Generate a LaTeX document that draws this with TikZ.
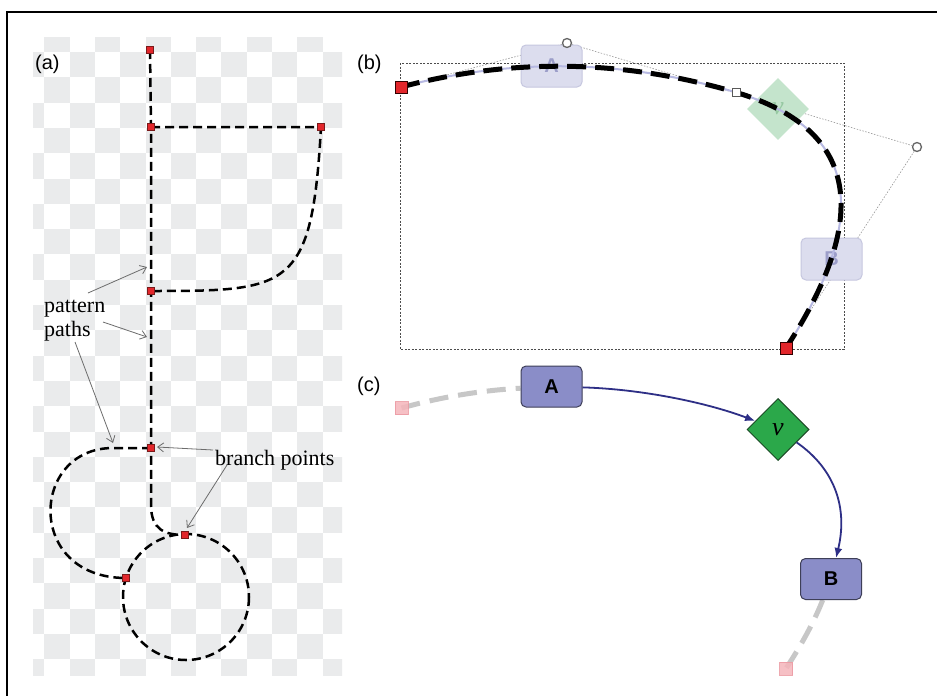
\documentclass[tikz,border=0pt]{standalone}
\usepackage{fontspec}
\setmainfont{Liberation Serif}
\setsansfont{Liberation Sans}
\usetikzlibrary{shapes.geometric,arrows.meta}
\definecolor{chk}{HTML}{EAEBEC}
\definecolor{redpt}{HTML}{E2262B}
\definecolor{reddark}{HTML}{7A1A1A}
\definecolor{lavfill}{HTML}{8A8DC8}
\definecolor{lavdraw}{HTML}{3E3F58}
\definecolor{ghfill}{HTML}{DCDDEE}
\definecolor{ghdraw}{HTML}{C6C7DF}
\definecolor{ghtext}{HTML}{9C9EC9}
\definecolor{gvfill}{HTML}{C4E4CC}
\definecolor{gvtext}{HTML}{96C8A2}
\definecolor{greenfill}{HTML}{2BA84A}
\definecolor{greendraw}{HTML}{1C4A26}
\definecolor{navy}{HTML}{2E2F86}
\definecolor{pinkfill}{HTML}{F5B5BB}
\definecolor{pinkdraw}{HTML}{EC9AA3}
\definecolor{lavline}{HTML}{B7B9E2}
\pgfdeclarelayer{bg}
\pgfsetlayers{bg,main}
\begin{document}
\begin{tikzpicture}[x=1pt,y=-1pt,
  pat/.style={line width=2.5pt,dash pattern=on 9pt off 5pt},
  ann/.style={draw=gray!85!black,line width=0.8pt,-{Straight Barb[length=6pt,width=9pt]}},
  lbl/.style={anchor=base west,inner sep=0pt,font=\fontsize{22}{26}\selectfont},
  plabel/.style={anchor=base west,inner sep=0pt,font=\sffamily\fontsize{20}{24}\selectfont},
  rp/.style={rectangle,fill=redpt,draw=reddark,line width=0.5pt,minimum size=7pt,inner sep=0pt},
  rsq/.style={rectangle,fill=redpt,draw=black!80!red,line width=1pt,minimum size=12pt,inner sep=0pt},
  wsq/.style={rectangle,fill=white,draw=black!65,line width=1.2pt,minimum size=8pt,inner sep=0pt},
  ctl/.style={circle,fill=white,draw=black!60,line width=1.3pt,minimum size=9pt,inner sep=0pt},
  ctlline/.style={draw=black!40,line width=0.6pt,dash pattern=on 1.5pt off 1.5pt},
  bbox/.style={draw=black!70,line width=0.9pt,dash pattern=on 2pt off 1.5pt},
  ghostbox/.style={rectangle,rounded corners=5pt,fill=ghfill,draw=ghdraw,line width=1pt,minimum width=61pt,minimum height=42pt,inner sep=0pt,text=ghtext,font=\sffamily\bfseries\fontsize{20}{22}\selectfont},
  ghostdia/.style={diamond,fill=gvfill,minimum width=62pt,minimum height=62pt,inner sep=0pt,text=gvtext,font=\itshape\fontsize{26}{28}\selectfont},
  lav/.style={draw=lavline,line width=2pt},
  bdash/.style={line width=5pt,dash pattern=on 19pt off 9pt},
  psq/.style={rectangle,fill=pinkfill,draw=pinkdraw,line width=1pt,minimum size=13pt,inner sep=0pt,opacity=0.85},
  nodebox/.style={rectangle,rounded corners=5pt,fill=lavfill,draw=lavdraw,line width=1pt,minimum width=61pt,minimum height=41pt,inner sep=0pt,font=\sffamily\bfseries\fontsize{20}{22}\selectfont},
  vdia/.style={diamond,fill=greenfill,draw=greendraw,line width=1pt,minimum width=62pt,minimum height=62pt,inner sep=0pt,font=\itshape\fontsize{26}{28}\selectfont},
  gdash/.style={draw=black!22,line width=5pt,dash pattern=on 19pt off 10pt},
  conn/.style={draw=navy,line width=1.8pt,-{Latex[length=10pt,width=8pt]}}
]
\useasboundingbox (0,0) rectangle (937,696);
\begin{pgfonlayer}{bg}
\fill[white] (0,0) rectangle (937,696);
\end{pgfonlayer}
\draw[line width=2pt] (7.3,696) -- (7.3,11.8) -- (937,11.8);

% ---------- panel (a) ----------
\begin{pgfonlayer}{bg}
\begin{scope}
\clip (33,37) rectangle (342,675);
\foreach \i in {0,...,13}{\foreach \j in {0,...,26}{%
  \ifodd\numexpr\i+\j\relax
    \fill[chk] ({19+25.3*\i},{26.7+25.3*\j}) rectangle +(25.3,25.3);
  \fi}}
\end{scope}
\end{pgfonlayer}

\node[plabel] (la) at (35,69.5) {(a)};
\node[rp] (a1) at (150,50) {};
\node[rp] (a2) at (151,127) {};
\node[rp] (a3) at (321,127) {};
\node[rp] (a4) at (151,291) {};
\node[rp] (a5) at (151,448) {};
\node[rp] (a6) at (185,535) {};
\node[rp] (a7) at (126,578) {};
\coordinate (cc) at (186,597);
\begin{pgfonlayer}{bg}
\draw[pat] (a1.center) -- (a2.center) -- (a4.center) -- (a5.center) -- (151,505)
   .. controls (151,530) and (165,535) .. (a6.center);
\draw[pat] (a2.center) -- (a3.center) .. controls (312,290) and (290,291) .. (a4.center);
\draw[pat] (a5.center) -- (113,448) .. controls (30,448) and (25,578) .. (a7.center);
\draw[pat] (cc) circle[radius=63];
\end{pgfonlayer}

\node[lbl] (tp1) at (44,312) {pattern};
\node[lbl] (tp2) at (44,336) {paths};
\node[lbl] (tbp) at (215,465) {branch points};
\coordinate (s1) at (88,293);   \coordinate (e1) at (147,267);
\coordinate (s2) at (103,322);  \coordinate (e2) at (147,337);
\coordinate (s3) at (75,342);   \coordinate (e3) at (113,443);
\coordinate (s4) at (213,450);  \coordinate (e4) at (157,447);
\coordinate (s5) at (227,465);  \coordinate (e5) at (187,528);
\draw[ann] (s1) -- (e1);
\draw[ann] (s2) -- (e2);
\draw[ann] (s3) -- (e3);
\draw[ann] (s4) -- (e4);
\draw[ann] (s5) -- (e5);

% ---------- panel (b) ----------
\node[plabel] (lb) at (357,69.5) {(b)};
\node[rsq] (b0) at (401,87) {};
\node[wsq] (bm) at (736.5,92.5) {};
\node[rsq] (b3) at (786,348) {};
\node[ctl] (bc1) at (567,43) {};
\node[ctl] (bc2) at (917,147) {};
\begin{pgfonlayer}{bg}
\draw[bbox] (400,63) rectangle (844,349);
\draw[ctlline] (b0.center) -- (bc1) -- (bc2) -- (b3.center);
\node[ghostbox] (gA) at (551.5,66) {A};
\node[ghostdia] (gv) at (778,109) {v};
\node[ghostbox] (gB) at (831.5,259) {B};
\draw[lav] (b0.center) .. controls (511.7,57.7) and (623.3,59.3) .. (bm.center)
   .. controls (856.7,128.7) and (873.3,214) .. (b3.center);
\draw[bdash] (b0.center) .. controls (511.7,57.7) and (623.3,59.3) .. (bm.center)
   .. controls (856.7,128.7) and (873.3,214) .. (b3.center);
\end{pgfonlayer}

% ---------- panel (c) ----------
\node[plabel] (lc) at (357,391.5) {(c)};
\node[psq] (c0) at (401.5,408) {};
\node[nodebox] (A) at (551.5,386.5) {A};
\node[vdia] (v) at (778,429.5) {v};
\node[nodebox] (B) at (831,579) {B};
\node[psq] (c3) at (786,668.5) {};
\begin{pgfonlayer}{bg}
\draw[gdash] (c0.center) .. controls (440.9,397) and (480.9,390.4) .. (A);
\draw[gdash] (B) .. controls (814.1,621.8) and (801.7,644.4) .. (c3.center);
\end{pgfonlayer}
\draw[conn] (A) .. controls (640,389) and (705,402) .. (v);
\draw[conn] (v) .. controls (835,469) and (848,508) .. (B);
\end{tikzpicture}
\end{document}
